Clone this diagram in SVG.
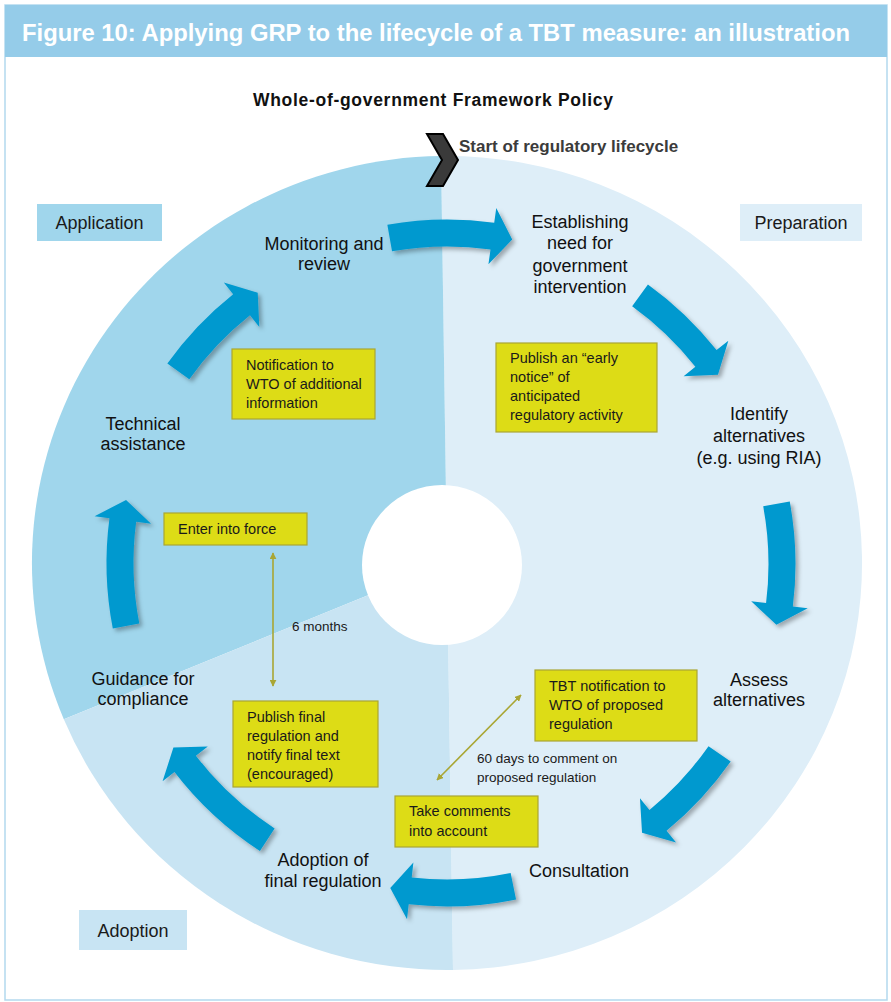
<svg xmlns="http://www.w3.org/2000/svg" width="891" height="1002" viewBox="0 0 891 1002">
<style>
.title{font-family:"Liberation Sans",Arial,sans-serif;font-weight:bold;font-size:23px;fill:#ffffff}
.head{font-family:"Liberation Sans",Arial,sans-serif;font-weight:bold;font-size:17.5px;fill:#111}
.start{font-family:"Liberation Sans",Arial,sans-serif;font-weight:bold;font-size:17px;fill:#3b3b3b}
.lbl{font-family:"Liberation Sans",Arial,sans-serif;font-size:18px;fill:#111;text-anchor:middle}
.cat{font-family:"Liberation Sans",Arial,sans-serif;font-size:18px;fill:#1a1a1a;text-anchor:middle}
.ybox{fill:#dddc16;stroke:#aaa634;stroke-width:1.2}
.ytxt{font-family:"Liberation Sans",Arial,sans-serif;font-size:14.5px;fill:#1a1a1a}
.note{font-family:"Liberation Sans",Arial,sans-serif;font-size:13.5px;fill:#1a1a1a}
.arr{fill:#0099cf;filter:url(#sh)}
.dbl{stroke:#a9a634;stroke-width:1.6;fill:none;marker-start:url(#mh);marker-end:url(#mh)}
</style>
<defs>
<filter id="sh" x="-20%" y="-20%" width="140%" height="140%">
<feDropShadow dx="3" dy="3" stdDeviation="2" flood-color="#000" flood-opacity="0.3"/>
</filter>
<marker id="mh" viewBox="0 0 10 10" refX="9" refY="5" markerWidth="7" markerHeight="7" orient="auto-start-reverse" markerUnits="userSpaceOnUse">
<path d="M0,0 L10,5 L0,10 Z" fill="#a9a634"/>
</marker>
</defs>

<!-- frame -->
<rect x="5" y="5" width="882" height="995" fill="#ffffff" stroke="#b3d9ee" stroke-width="1.5"/>
<rect x="5" y="5" width="882" height="52" fill="#95cce9"/>
<text class="title" x="22" y="41" textLength="828" lengthAdjust="spacingAndGlyphs">Figure 10: Applying GRP to the lifecycle of a TBT measure: an illustration</text>

<!-- segments -->
<g id="segments">
<path id="seg-preparation" d="M441,156 A415,407 0 0 1 453,970 Z" fill="#deeef8"/>
<path id="seg-application" d="M447,563 L63.8,719.3 A415,407 0 0 1 441,156 Z" fill="#a0d6ec"/>
<path id="seg-adoption" d="M447,563 L453,970 A415,407 0 0 1 63.8,719.3 Z" fill="#c8e4f3"/>
<circle cx="442" cy="565" r="80" fill="#ffffff"/>
</g>

<text class="head" x="253" y="106" textLength="360">Whole-of-government Framework Policy</text>

<g id="start">
<path d="M427,134 L443,134 L458,160 L443,186 L427,186 L442,160 Z" fill="#3a3a3a" stroke="#000" stroke-width="2" stroke-linejoin="miter"/>
<text class="start" x="459" y="152">Start of regulatory lifecycle</text>
</g>

<!-- category labels -->
<g id="cat-application"><rect x="37" y="204" width="125" height="37" fill="#a0d6ec"/><text class="cat" x="99.5" y="229">Application</text></g>
<g id="cat-preparation"><rect x="740" y="204" width="122" height="37" fill="#deeef8"/><text class="cat" x="801" y="229">Preparation</text></g>
<g id="cat-adoption"><rect x="79" y="910" width="108" height="40" fill="#c8e4f3"/><text class="cat" x="133" y="937">Adoption</text></g>

<!-- cycle connectors -->
<g id="connectors">
<path class="arr" d="M387.35,224.72 A343.5,343.5 0 0 1 494.21,222.76 L496.27,207.90 L512.23,239.51 L488.44,264.36 L490.50,249.50 A316.5,316.5 0 0 0 392.04,251.31 Z"/>
<path class="arr" d="M647.93,284.40 A343.5,343.5 0 0 1 716.57,350.11 L728.34,340.81 L717.98,374.67 L683.61,376.14 L695.38,366.84 A316.5,316.5 0 0 0 632.14,306.30 Z"/>
<path class="arr" transform="translate(5,1)" d="M784.75,500.40 A343.5,343.5 0 0 1 787.86,605.46 L802.75,607.31 L771.37,623.70 L746.19,600.27 L761.07,602.12 A316.5,316.5 0 0 0 758.20,505.32 Z"/>
<path class="arr" transform="translate(2,2)" d="M728.67,759.59 A343.5,343.5 0 0 1 664.57,828.81 L674.07,840.42 L640.04,830.65 L637.96,796.31 L647.47,807.92 A316.5,316.5 0 0 0 706.53,744.14 Z"/>
<path class="arr" d="M516.07,899.49 A343.5,343.5 0 0 1 408.71,904.36 L407.04,919.27 L390.26,888.09 L413.39,862.62 L411.72,877.53 A316.5,316.5 0 0 0 510.64,873.04 Z"/>
<path class="arr" d="M259.92,851.08 A343.5,343.5 0 0 1 174.48,772.11 L162.58,781.24 L173.42,747.53 L207.80,746.54 L195.90,755.67 A316.5,316.5 0 0 0 274.62,828.44 Z"/>
<path class="arr" transform="translate(3,0)" d="M109.81,628.54 A343.5,343.5 0 0 1 106.44,518.16 L91.57,516.20 L123.06,500.03 L148.08,523.65 L133.21,521.69 A316.5,316.5 0 0 0 136.31,623.39 Z"/>
<path class="arr" d="M167.35,363.53 A343.5,343.5 0 0 1 233.17,294.17 L223.83,282.43 L257.72,292.68 L259.31,327.04 L249.98,315.30 A316.5,316.5 0 0 0 189.33,379.21 Z"/>
<line class="dbl" x1="273" y1="553" x2="273" y2="686"/>
<line class="dbl" x1="521" y1="695" x2="437" y2="780"/>
</g>

<!-- stage nodes -->
<g id="node-monitoring"><text class="lbl" x="324" y="250">Monitoring and</text><text class="lbl" x="324" y="270">review</text></g>
<g id="node-establishing"><text class="lbl" x="580" y="228">Establishing</text><text class="lbl" x="580" y="249">need for</text><text class="lbl" x="580" y="272">government</text><text class="lbl" x="580" y="293">intervention</text></g>
<g id="node-identify"><text class="lbl" x="759" y="420">Identify</text><text class="lbl" x="759" y="442">alternatives</text><text class="lbl" x="759" y="464">(e.g. using RIA)</text></g>
<g id="node-assess"><text class="lbl" x="759" y="686">Assess</text><text class="lbl" x="759" y="706">alternatives</text></g>
<g id="node-consultation"><text class="lbl" x="579" y="877">Consultation</text></g>
<g id="node-adoption"><text class="lbl" x="323" y="866">Adoption of</text><text class="lbl" x="323" y="887">final regulation</text></g>
<g id="node-guidance"><text class="lbl" x="143" y="685">Guidance for</text><text class="lbl" x="143" y="705">compliance</text></g>
<g id="node-technical"><text class="lbl" x="143" y="430">Technical</text><text class="lbl" x="143" y="450">assistance</text></g>

<!-- yellow notes -->
<g id="note-notification"><rect class="ybox" x="232" y="349" width="143" height="70"/><text class="ytxt" x="246" y="370">Notification to</text><text class="ytxt" x="246" y="389">WTO of additional</text><text class="ytxt" x="246" y="408">information</text></g>
<g id="note-early"><rect class="ybox" x="496" y="343" width="161" height="89"/><text class="ytxt" x="510" y="363">Publish an “early</text><text class="ytxt" x="510" y="382">notice” of</text><text class="ytxt" x="510" y="401">anticipated</text><text class="ytxt" x="510" y="420">regulatory activity</text></g>
<g id="note-force"><rect class="ybox" x="164" y="513" width="143" height="32"/><text class="ytxt" x="178" y="534">Enter into force</text></g>
<g id="note-tbt"><rect class="ybox" x="535" y="670" width="162" height="71"/><text class="ytxt" x="549" y="691">TBT notification to</text><text class="ytxt" x="549" y="710">WTO of proposed</text><text class="ytxt" x="549" y="729">regulation</text></g>
<g id="note-publish"><rect class="ybox" x="233" y="701" width="145" height="86"/><text class="ytxt" x="247" y="722">Publish final</text><text class="ytxt" x="247" y="741">regulation and</text><text class="ytxt" x="247" y="760">notify final text</text><text class="ytxt" x="247" y="779">(encouraged)</text></g>
<g id="note-comments"><rect class="ybox" x="395" y="796" width="143" height="51"/><text class="ytxt" x="409" y="816">Take comments</text><text class="ytxt" x="409" y="836">into account</text></g>

<text class="note" x="292" y="631">6 months</text>
<text class="note" x="477" y="763">60 days to comment on</text>
<text class="note" x="477" y="782">proposed regulation</text>
</svg>
